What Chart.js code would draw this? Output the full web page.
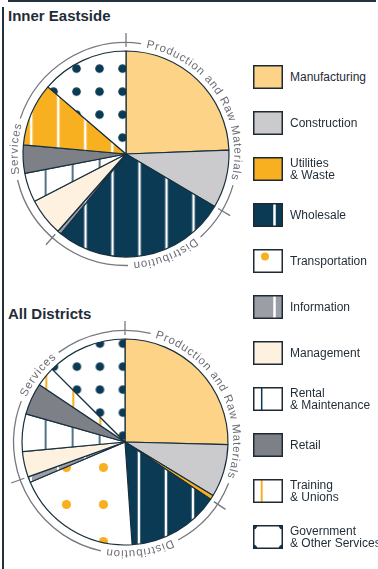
<!DOCTYPE html>
<html>
<head>
<meta charset="utf-8">
<script src="https://cdn.jsdelivr.net/npm/chart.js@4.4.1/dist/chart.umd.min.js"></script>
<style>
  body { margin: 0; background: #fff; font-family: "Liberation Sans", Arial, sans-serif; }
  #page { position: relative; width: 378px; height: 569px; overflow: hidden; }
  .frameTop { position: absolute; left: 8px; top: 0; width: 368px; height: 2px; background: #22323e; }
  .frameLeft { position: absolute; left: 2px; top: 7px; width: 2px; height: 562px; background: #22323e; }
  .title { position: absolute; left: 8px; font-weight: bold; font-size: 15px; line-height: 15px; color: #1f2d38; }
  canvas.pie { position: absolute; }
  .item { position: absolute; left: 253px; height: 24px; display: flex; align-items: center; }
  .item canvas { display: block; }
  .item span { margin-left: 7px; font-size: 12px; line-height: 12px; color: #1f2b36; white-space: nowrap; }
</style>
</head>
<body>
<div id="page">
  <div class="frameTop"></div>
  <div class="frameLeft"></div>
  <div class="title" style="top:8px">Inner Eastside</div>
  <div class="title" style="top:306px">All Districts</div>
  <canvas id="innerChart" class="pie" width="250" height="250" style="left:1px;top:29px"></canvas>
  <canvas id="allChart" class="pie" width="250" height="250" style="left:0px;top:317px"></canvas>
  <div id="legend"></div>
</div>
<script>
// industries, in drawing order (clockwise from 12 o'clock)
const categories = [
  ['Manufacturing'], ['Construction'], ['Utilities', '& Waste'], ['Wholesale'],
  ['Transportation'], ['Information'], ['Management'], ['Rental', '& Maintenance'],
  ['Retail'], ['Training', '& Unions'], ['Government', '& Other Services']
]
// share of jobs, percent
const innerEastside = [24.4, 9.1, 0, 27.4, 0, 0.6, 5.9, 4.6, 4.4, 9.9, 13.7]
const allDistricts = [25.4, 8.3, 0.7, 14.5, 19.7, 0.9, 4.0, 5.9, 5.0, 3.1, 12.5]
// sector groups around the ring and how many industries each one covers
const sectorNames = ['Production and Raw Materials', 'Distribution', 'Services']
const sectorSizes = [3, 3, 5]

const NAVY = '#0b3a55'
const ORANGE = '#f8b020'
const RING = '#777981'
const EDGE = '#17303f'

function stripePattern(ctx, bg, fg, width, period, x) {
    let t = document.createElement('canvas')
    t.width = period; t.height = period
    let g = t.getContext('2d')
    g.fillStyle = bg
    g.fillRect(0, 0, period, period)
    g.fillStyle = fg
    g.fillRect(0, 0, width / 2, period)
    g.fillRect(period - width / 2, 0, width / 2, period)
    let p = ctx.createPattern(t, 'repeat')
    p.setTransform(new DOMMatrix().translate(x, 0))
    return p
}

function dotPattern(ctx, bg, fg, r, step, x, y) {
    let t = document.createElement('canvas')
    t.width = step; t.height = step
    let g = t.getContext('2d')
    g.fillStyle = bg
    g.fillRect(0, 0, step, step)
    g.fillStyle = fg
    g.beginPath()
    g.arc(step / 2, step / 2, r, 0, Math.PI * 2)
    g.fill()
    let p = ctx.createPattern(t, 'repeat')
    p.setTransform(new DOMMatrix().translate(x - step / 2, y - step / 2))
    return p
}

// off = pattern anchors in canvas pixels
function pieFills(ctx, off) {
    return [
        '#fdd388',
        '#cbcbce',
        ORANGE,
        stripePattern(ctx, NAVY, '#ffffff', 2.5, 27, off.stripe),
        dotPattern(ctx, '#ffffff', ORANGE, 4.6, 37, off.transX, off.transY),
        stripePattern(ctx, '#9c9ea5', '#ffffff', 2, 27, off.stripe),
        '#fef1df',
        stripePattern(ctx, '#ffffff', NAVY, 1.4, 27, off.rental),
        '#7e8088',
        off.trainingInverted
            ? stripePattern(ctx, ORANGE, '#ffffff', 2.5, 27, off.training)
            : stripePattern(ctx, '#ffffff', ORANGE, 2, 27, off.training),
        dotPattern(ctx, '#ffffff', NAVY, 4.3, 23, off.govX, off.govY)
    ]
}

function textOnRing(ctx, text, cx, cy, r, mid, spacing) {
    let chars = [...text]
    let widths = chars.map(ch => ctx.measureText(ch).width)
    let total = widths.reduce((a, b) => a + b, 0) + spacing * (chars.length - 1)
    let a = mid - total / 2 / r
    chars.forEach((ch, i) => {
        ctx.save()
        ctx.translate(cx, cy)
        ctx.rotate(a + widths[i] / 2 / r)
        ctx.fillText(ch, 0, -r)
        ctx.restore()
        a += (widths[i] + spacing) / r
    })
    return total / r
}

// ring with sector names and tick marks at the sector borders
const sectorRing = {
    id: 'sectorRing',
    afterDatasetsDraw(chart, args, opts) {
        let ctx = chart.ctx
        let first = chart.getDatasetMeta(0).data[0]
        let cx = first.x, cy = first.y
        let r = opts.radius
        let values = chart.data.datasets[0].data
        let sum = values.reduce((a, b) => a + b, 0)

        let bounds = []
        let idx = 0, acc = 0
        sectorSizes.forEach(n => {
            bounds.push(acc / sum * Math.PI * 2)
            for (let k = 0; k < n; k++) acc += values[idx++]
        })

        ctx.save()
        ctx.font = opts.fontSize + 'px "Liberation Sans", Arial, sans-serif'
        ctx.fillStyle = '#6c6e77'
        ctx.textAlign = 'center'
        ctx.textBaseline = 'middle'
        let gaps = []
        sectorNames.forEach((name, i) => {
            let mid = opts.labelAt[i] * Math.PI / 180
            let span = textOnRing(ctx, name, cx, cy, r, mid, opts.spacing)
            gaps.push([mid - span / 2 - 0.05, mid + span / 2 + 0.05])
        })

        ctx.strokeStyle = RING
        ctx.lineWidth = 1.3
        gaps.sort((a, b) => a[0] - b[0])
        for (let i = 0; i < gaps.length; i++) {
            let from = gaps[i][1]
            let to = i + 1 < gaps.length ? gaps[i + 1][0] : gaps[0][0] + Math.PI * 2
            ctx.beginPath()
            ctx.arc(cx, cy, r, from - Math.PI / 2, to - Math.PI / 2)
            ctx.stroke()
        }
        bounds.forEach(a => {
            let s = Math.sin(a), c = -Math.cos(a)
            ctx.beginPath()
            ctx.moveTo(cx + s * 107, cy + c * 107)
            ctx.lineTo(cx + s * 121, cy + c * 121)
            ctx.stroke()
        })
        ctx.restore()
    }
}

function makePie(id, values, off, labelAt) {
    let canvas = document.getElementById(id)
    let ctx = canvas.getContext('2d')
    return new Chart(ctx, {
        type: 'pie',
        data: {
            labels: categories.map(l => l.join(' ')),
            datasets: [{
                data: values,
                backgroundColor: pieFills(ctx, off),
                borderColor: EDGE,
                borderWidth: 1.2,
                radius: 103
            }]
        },
        options: {
            responsive: false,
            animation: false,
            events: [],
            plugins: {
                legend: { display: false },
                tooltip: { enabled: false },
                sectorRing: { radius: 111.5, fontSize: 11.5, spacing: 1, labelAt: labelAt }
            }
        },
        plugins: [sectorRing]
    })
}

makePie('innerChart', innerEastside,
    { stripe: 3.5, rental: 17.6, training: 3.2, trainingInverted: true, transX: 10, transY: 10, govX: 6.5, govY: 16.6 },
    [57, 158.5, 272.5])
makePie('allChart', allDistricts,
    { stripe: 3.9, rental: 18.6, training: 19.3, trainingInverted: false, transX: 29.4, transY: 2.5, govX: 7.9, govY: 3.6 },
    [62.5, 172, 307.5])

// legend swatches
const swatchLooks = [
    { bg: '#fdd388' },
    { bg: '#cbcbce' },
    { bg: ORANGE },
    { bg: NAVY, line: { color: '#ffffff', x: 21.5, w: 2.5 } },
    { bg: '#ffffff', dot: { color: ORANGE, x: 12, y: 7.5, r: 4 } },
    { bg: '#9c9ea5', line: { color: '#ffffff', x: 21.5, w: 2.5 } },
    { bg: '#fef1df' },
    { bg: '#ffffff', line: { color: NAVY, x: 8.7, w: 1.5 } },
    { bg: '#7e8088' },
    { bg: '#ffffff', line: { color: ORANGE, x: 8.7, w: 2 } },
    { bg: '#ffffff', corners: { color: NAVY, r: 4.5 } }
]

let legend = document.getElementById('legend')
categories.forEach((lines, i) => {
    let item = document.createElement('div')
    item.className = 'item'
    item.style.top = (65 + 46 * i) + 'px'
    let c = document.createElement('canvas')
    c.width = 30; c.height = 24
    let g = c.getContext('2d')
    let look = swatchLooks[i]
    g.fillStyle = look.bg
    g.fillRect(0, 0, 30, 24)
    if (look.line) {
        g.fillStyle = look.line.color
        g.fillRect(look.line.x - look.line.w / 2, 0, look.line.w, 24)
    }
    if (look.dot) {
        g.fillStyle = look.dot.color
        g.beginPath(); g.arc(look.dot.x, look.dot.y, look.dot.r, 0, Math.PI * 2); g.fill()
    }
    if (look.corners) {
        g.fillStyle = look.corners.color
        ;[[0, 0], [30, 0], [0, 24], [30, 24]].forEach(p => {
            g.beginPath(); g.arc(p[0], p[1], look.corners.r, 0, Math.PI * 2); g.fill()
        })
    }
    g.strokeStyle = '#1d2a35'
    g.lineWidth = 1.5
    g.strokeRect(0.75, 0.75, 28.5, 22.5)
    item.appendChild(c)
    let span = document.createElement('span')
    span.innerHTML = lines.join('<br>')
    item.appendChild(span)
    legend.appendChild(item)
})
</script>
</body>
</html>
